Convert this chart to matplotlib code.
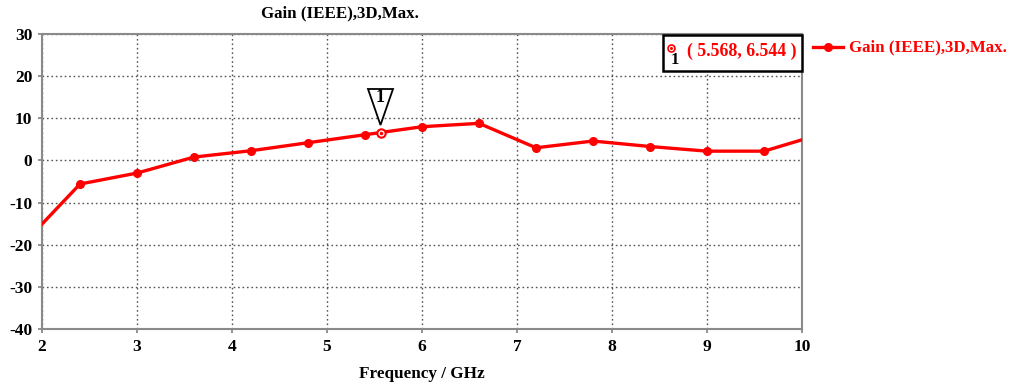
import matplotlib
matplotlib.use("Agg")
import matplotlib.pyplot as plt
from matplotlib.patches import Polygon, Rectangle

freq = [2.0, 2.4, 3.0, 3.6, 4.2, 4.8, 5.4, 6.0, 6.6, 7.2, 7.8, 8.4, 9.0, 9.6, 10.0]
gain = [-15.1, -5.6, -3.0, 0.8, 2.3, 4.2, 6.1, 8.0, 8.8, 3.0, 4.6, 3.3, 2.2, 2.2, 4.9]
marker_x = 5.568
marker_y = 6.544
xticks = [2, 3, 4, 5, 6, 7, 8, 9, 10]
yticks = [-40, -30, -20, -10, 0, 10, 20, 30]

plt.rcParams['font.family'] = ['Liberation Serif', 'DejaVu Serif']
plt.rcParams['font.weight'] = 'bold'
plt.rcParams['axes.unicode_minus'] = False

fig = plt.figure(figsize=(10.1, 3.88), dpi=100)
ax = fig.add_axes([42/1010, 59/388, 760/1010, 295/388])

red = '#ff0000'
ax.plot(freq, gain, color=red, lw=2.4, zorder=3)
ax.plot(freq[1:-1], gain[1:-1], 'o', color=red, ms=5.5, zorder=4)
ax.plot([marker_x], [marker_y], 'o', ms=6, mfc='white', mec=red, mew=1.5, zorder=5)
ax.plot([marker_x], [marker_y], 'o', ms=1.5, color=red, zorder=6)

ax.set_xlim(2, 10)
ax.set_ylim(-40, 30)
ax.set_xticks(xticks)
ax.set_yticks(yticks)
ax.tick_params(labelsize=12.5, length=3, color='#808080', width=1.2, pad=4)
for lab in ax.get_xticklabels() + ax.get_yticklabels():
    lab.set_fontweight('bold')
ax.grid(True, ls=(0, (1.2, 2)), color='#555555', lw=1.0)
for s in ax.spines.values():
    s.set_color('#8a8a8a')
    s.set_linewidth(1.5)

ax.set_xlabel('Frequency / GHz', fontsize=12.3, fontweight='bold', labelpad=8)
fig.text(340/1010, 1 - 13/388, 'Gain (IEEE),3D,Max.', ha='center', va='center',
         fontsize=12.2, fontweight='bold')

# inverted triangle marker label
tri = Polygon([[368, 388-89], [393, 388-89], [380.5, 388-125]], closed=True,
              transform=None, fc='white', ec='black', lw=1.3, zorder=7)
fig.patches.append(tri)
fig.text(380.5/1010, 1 - 98/388, '1', ha='center', va='center', fontsize=13,
         fontweight='bold', color='black', zorder=8)

# marker readout box
box = Rectangle((663/1010, 1 - 71/388), 139/1010, 36/388, transform=fig.transFigure,
                fc='white', ec='black', lw=1.8, zorder=7)
fig.patches.append(box)
fig.lines.append(plt.Line2D([671/1010], [1 - 48/388], marker='o', ms=5, mfc='white',
                            mec=red, mew=1.2, transform=fig.transFigure, zorder=8))
fig.lines.append(plt.Line2D([671/1010], [1 - 48/388], marker='o', ms=1.2, color=red,
                            transform=fig.transFigure, zorder=9))
fig.text(675/1010, 1 - 60/388, '1', ha='center', va='center', fontsize=12,
         fontweight='bold', color='black', zorder=8)
fig.text(742/1010, 1 - 51/388, '( %.3f, %.3f )' % (marker_x, marker_y), ha='center',
         va='center', fontsize=12.8, fontweight='bold', color=red, zorder=8)

# legend outside
fig.lines.append(plt.Line2D([813/1010, 843/1010], [1 - 47/388, 1 - 47/388], color=red,
                            lw=2.4, transform=fig.transFigure))
fig.lines.append(plt.Line2D([828/1010], [1 - 47/388], color=red, marker='o', ms=5.5,
                            transform=fig.transFigure))
fig.text(849/1010, 1 - 47/388, 'Gain (IEEE),3D,Max.', ha='left', va='center',
         fontsize=12.2, fontweight='bold', color=red)

fig.savefig('out.png', dpi=100)
